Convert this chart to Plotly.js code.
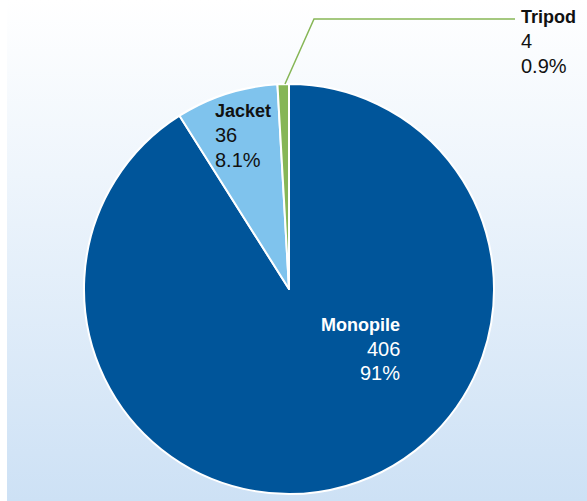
<!DOCTYPE html>
<html>
<head>
<meta charset="utf-8">
<script src="https://cdn.plot.ly/plotly-3.0.1.min.js"></script>
<style>
  html, body { margin: 0; padding: 0; background: #ffffff; }
  #wrap { position: relative; width: 587px; height: 501px; }
  #bg { position: absolute; left: 7px; top: 0; width: 580px; height: 501px;
        background: linear-gradient(to bottom, #ffffff 0%, #eef5fc 35%, #cde1f5 100%); }
  #chart { position: absolute; left: 0; top: 0; width: 587px; height: 501px; }
</style>
</head>
<body>
<div id="wrap"><div id="bg"></div><div id="chart"></div></div>
<script>
// Data
const categories = ["Monopile", "Jacket", "Tripod"];
const counts = [406, 36, 4];
const percentLabels = ["91%", "8.1%", "0.9%"];
const sliceColors = ["#00559a", "#7fc3ed", "#86b656"];

const W = 587, H = 501;
const px = x => x / W;
const py = y => 1 - y / H;

// label placement (pixels) and styling
const labelPos = [
  {x: 402, y: [325, 349, 373], anchor: "right", color: "#ffffff"},
  {x: 213, y: [111, 135, 160], anchor: "left", color: "#111111"},
  {x: 519, y: [17, 41, 66], anchor: "left", color: "#111111"}
];

const annotations = [];
categories.forEach((c, i) => {
  const p = labelPos[i];
  const lines = ["<b>" + c + "</b>", String(counts[i]), percentLabels[i]];
  const sizes = [18, 20, 20];
  lines.forEach((t, j) => {
    annotations.push({
      xref: "paper", yref: "paper", x: px(p.x), y: py(p.y[j]),
      xanchor: p.anchor, yanchor: "middle", showarrow: false,
      text: t, font: {family: "Liberation Sans, Arial, sans-serif", size: sizes[j], color: p.color}
    });
  });
});

const cx = 289, cy = 289, r = 205;
const data = [{
  type: "pie",
  labels: categories,
  values: counts,
  sort: false,
  direction: "clockwise",
  rotation: 0,
  textinfo: "none",
  hoverinfo: "none",
  marker: {colors: sliceColors, line: {color: "#ffffff", width: 2}},
  domain: {x: [px(cx - r), px(cx + r)], y: [py(cy + r), py(cy - r)]},
  showlegend: false
}];

const layout = {
  width: W, height: H,
  margin: {l: 0, r: 0, t: 0, b: 0},
  paper_bgcolor: "rgba(0,0,0,0)",
  plot_bgcolor: "rgba(0,0,0,0)",
  showlegend: false,
  annotations: annotations,
  shapes: [{
    type: "path", xref: "paper", yref: "paper",
    path: "M " + px(285) + " " + py(84) + " L " + px(314) + " " + py(19) + " L " + px(515) + " " + py(19),
    line: {color: "#86b656", width: 1.5}
  }]
};

Plotly.newPlot("chart", data, layout, {displayModeBar: false, staticPlot: true});
</script>
</body>
</html>
